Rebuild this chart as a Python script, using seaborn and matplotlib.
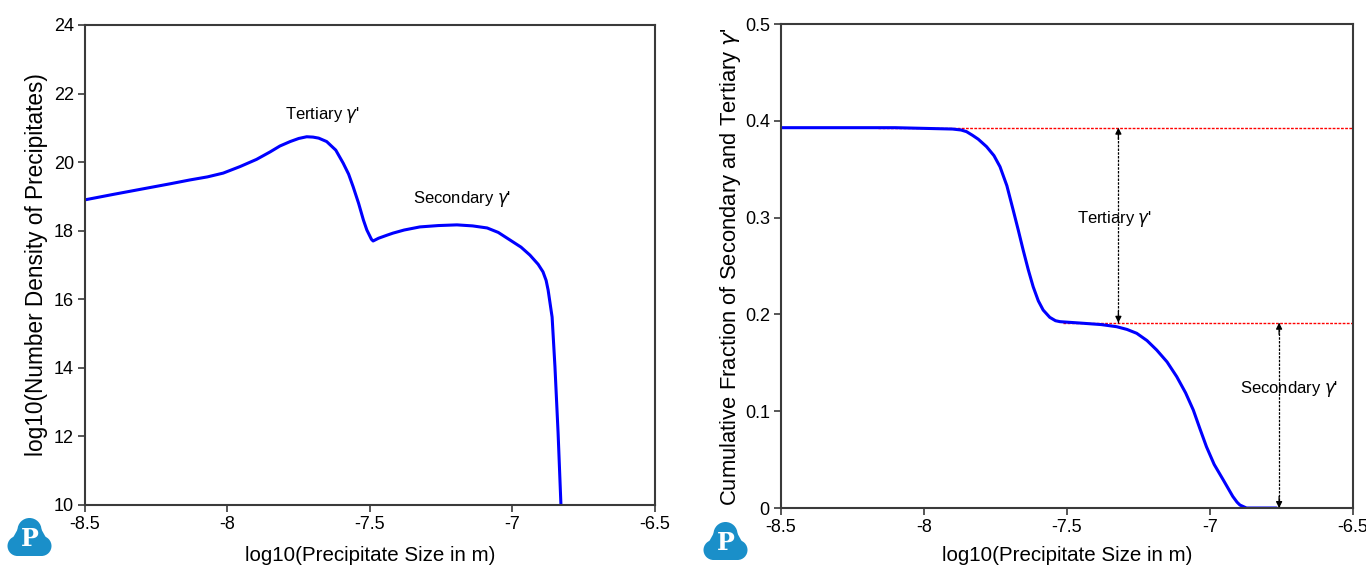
import numpy as np
import pandas as pd
import matplotlib
matplotlib.use("Agg")
import matplotlib.pyplot as plt
import seaborn as sns
from matplotlib.patches import Circle, Polygon

# ---------------- data ----------------
size_left = [-8.50, -8.40, -8.284, -8.20, -8.132, -8.07, -8.015, -7.956, -7.898, -7.85,
             -7.816, -7.78, -7.75, -7.722, -7.70, -7.68, -7.652, -7.62, -7.594, -7.575,
             -7.559, -7.54, -7.523, -7.511, -7.495, -7.489, -7.47, -7.44, -7.419, -7.38,
             -7.325, -7.26, -7.195, -7.14, -7.089, -7.05, -7.009, -6.97, -6.939, -6.91,
             -6.893, -6.882, -6.875, -6.861, -6.851, -6.840, -6.830]
density_left = [18.90, 19.06, 19.24, 19.37, 19.48, 19.57, 19.68, 19.87, 20.08, 20.30,
                20.47, 20.60, 20.69, 20.74, 20.73, 20.70, 20.60, 20.35, 19.97, 19.65,
                19.28, 18.80, 18.31, 18.02, 17.75, 17.70, 17.78, 17.87, 17.93, 18.02,
                18.11, 18.15, 18.17, 18.14, 18.08, 17.95, 17.73, 17.52, 17.29, 17.02,
                16.80, 16.55, 16.27, 15.48, 14.03, 12.10, 10.00]

size_right = [-8.50, -8.10, -7.90, -7.87, -7.851, -7.83, -7.81, -7.781, -7.755, -7.734,
              -7.71, -7.688, -7.67, -7.653, -7.635, -7.618, -7.60, -7.583, -7.56, -7.54,
              -7.524, -7.45, -7.38, -7.326, -7.29, -7.256, -7.22, -7.186, -7.15, -7.116,
              -7.085, -7.058, -7.035, -7.012, -6.985, -6.953, -6.920, -6.905, -6.895,
              -6.872, -6.767]
cumfrac_right = [0.3929, 0.3929, 0.3915, 0.3905, 0.3888, 0.385, 0.381, 0.3733, 0.364, 0.3526,
                 0.333, 0.3079, 0.287, 0.2665, 0.246, 0.2286, 0.214, 0.2045, 0.197, 0.1935,
                 0.1925, 0.1910, 0.1895, 0.1873, 0.1845, 0.1805, 0.173, 0.1632, 0.151, 0.1357,
                 0.119, 0.1012, 0.082, 0.0633, 0.045, 0.0289, 0.012, 0.0060, 0.0031,
                 0.0, 0.0]

total_level = 0.3929
secondary_level = 0.1914
total_line_x = [-8.16, -6.5]
secondary_line_x = [-7.514, -6.5]
tertiary_arrow_x = -7.320
secondary_arrow_x = -6.758

x_ticks = [-8.5, -8.0, -7.5, -7.0, -6.5]
x_ticklabels = ["-8.5", "-8", "-7.5", "-7", "-6.5"]
left_yticks = [10, 12, 14, 16, 18, 20, 22, 24]
right_yticks = [0, 0.1, 0.2, 0.3, 0.4, 0.5]
right_yticklabels = ["0", "0.1", "0.2", "0.3", "0.4", "0.5"]

xlabel = "log10(Precipitate Size in m)"
left_ylabel = "log10(Number Density of Precipitates)"
right_ylabel = "Cumulative Fraction of Secondary and Tertiary $\\gamma$'"
tert_label = "Tertiary $\\gamma$'"
sec_label = "Secondary $\\gamma$'"

# ---------------- style ----------------
sns.set_style("ticks")
plt.rcParams['font.family'] = ['Liberation Sans', 'DejaVu Sans']
plt.rcParams['text.color'] = 'black'
plt.rcParams['axes.labelcolor'] = 'black'
plt.rcParams['xtick.color'] = 'black'
plt.rcParams['ytick.color'] = 'black'
spine_color = "#3a3a3a"

fig = plt.figure(figsize=(13.66, 5.73), dpi=100)
axL = fig.add_axes([0.0622, 0.1187, 0.4173, 0.8377])
axR = fig.add_axes([0.5717, 0.1134, 0.4187, 0.8447])

dfL = pd.DataFrame({"size": size_left, "density": density_left})
dfR = pd.DataFrame({"size": size_right, "frac": cumfrac_right})

sns.lineplot(data=dfL, x="size", y="density", ax=axL, color="#0000ff", lw=2.2,
             sort=False, estimator=None, solid_joinstyle="round")

# right panel reference lines (behind curve)
sns.lineplot(x=total_line_x, y=[total_level, total_level], ax=axR, color="red",
             lw=1.0, linestyle=(0, (2, 1)), estimator=None)
sns.lineplot(x=secondary_line_x, y=[secondary_level, secondary_level], ax=axR,
             color="red", lw=1.0, linestyle=(0, (2, 1)), estimator=None)
sns.lineplot(data=dfR, x="size", y="frac", ax=axR, color="#0000ff", lw=2.2,
             sort=False, estimator=None, solid_joinstyle="round")

# arrows
for (xa, y0, y1) in [(tertiary_arrow_x, secondary_level, total_level),
                     (secondary_arrow_x, 0.0, secondary_level)]:
    axR.plot([xa, xa], [y0, y1], color="black", lw=0.9, linestyle=(0, (2, 1)))
    axR.annotate("", xy=(xa, y1), xytext=(xa, y1 - 0.012),
                 arrowprops=dict(arrowstyle="-|>", color="black", lw=0.9,
                                 mutation_scale=9, shrinkA=0, shrinkB=0))
    axR.annotate("", xy=(xa, y0), xytext=(xa, y0 + 0.012),
                 arrowprops=dict(arrowstyle="-|>", color="black", lw=0.9,
                                 mutation_scale=9, shrinkA=0, shrinkB=0))

# annotations
axL.text(-7.665, 21.38, tert_label, ha="center", va="center", fontsize=12)
axL.text(-7.177, 18.93, sec_label, ha="center", va="center", fontsize=12)
axR.text(-7.332, 0.2986, tert_label, ha="center", va="center", fontsize=12)
axR.text(-6.724, 0.1229, sec_label, ha="center", va="center", fontsize=12)

# axes formatting
for ax in (axL, axR):
    ax.set_xlim(-8.5, -6.5)
    ax.set_xticks(x_ticks)
    ax.set_xticklabels(x_ticklabels)
    for s in ax.spines.values():
        s.set_visible(True)
        s.set_color(spine_color)
        s.set_linewidth(1.5)
    ax.tick_params(axis="both", direction="out", length=5, width=1.2,
                   color=spine_color, labelsize=13, pad=3,
                   top=False, right=False)

axL.set_xlabel(xlabel, fontsize=14.8, labelpad=9)
axR.set_xlabel(xlabel, fontsize=14.8, labelpad=7)

axL.set_ylim(10, 24)
axL.set_yticks(left_yticks)
axL.set_ylabel(left_ylabel, fontsize=16.3, labelpad=4)

axR.set_ylim(0, 0.5)
axR.set_yticks(right_yticks)
axR.set_yticklabels(right_yticklabels)
axR.set_ylabel(right_ylabel, fontsize=15.8, labelpad=1)

# logos (decoration)
logo_color = "#1a8fc9"
def draw_logo(cx, cy):
    # cx, cy in pixel coords from top-left
    H = 573
    y = H - cy
    parts = [Circle((cx, y + 8), 12), Circle((cx - 12, y - 8), 10),
             Circle((cx + 12, y - 8), 10),
             Polygon([(cx - 10, y + 12), (cx + 10, y + 12), (cx + 20, y - 6),
                      (cx + 12, y - 18), (cx - 12, y - 18), (cx - 20, y - 6)],
                     closed=True)]
    for p in parts:
        p.set_facecolor(logo_color)
        p.set_edgecolor("none")
        p.set_transform(None)
        fig.patches.append(p)
    fig.text(cx / 1366, (y - 1) / H, "P", color="white", fontsize=17,
             fontweight="bold", family="DejaVu Serif", ha="center", va="center")

draw_logo(29.5, 538)
draw_logo(725.5, 542)

fig.savefig("out.png", dpi=100)
